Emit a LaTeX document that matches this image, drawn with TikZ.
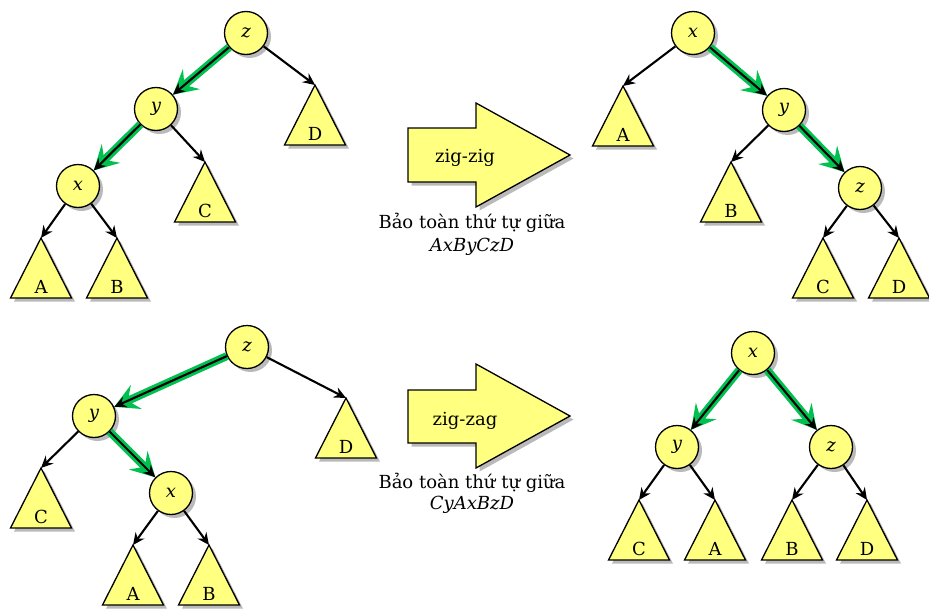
\documentclass[tikz,border=0pt]{standalone}
\usepackage{fontspec}
\setmainfont{DejaVu Serif}
\usetikzlibrary{arrows.meta,shadows}
\definecolor{nodefill}{RGB}{255,255,128}
\definecolor{pathgreen}{RGB}{0,192,80}
\tikzset{
 shad/.style={drop shadow={shadow xshift=3.5pt,shadow yshift=-3.5pt,fill=black!27,opacity=1}},
 keynode/.style={circle,draw,line width=1.3pt,fill=nodefill,minimum size=43pt,inner sep=0pt,shad,font=\fontsize{18}{21}\selectfont\itshape},
 tri/.style={draw,line width=1.3pt,fill=nodefill,shad,line join=miter},
 trilabel/.style={anchor=base,inner sep=0pt,font=\fontsize{18}{21}\selectfont},
 edge/.style={line width=2.1pt,-{Stealth[length=12pt,width=11pt,inset=4pt]}},
 gedge/.style={pathgreen,line width=8pt,-{Stealth[length=24pt,width=26pt,inset=9pt]}},
 bigarrow/.style={draw,line width=1.3pt,fill=nodefill,shad,line join=miter},
 txt/.style={anchor=base,inner sep=0pt,font=\fontsize{18}{21}\selectfont},
}
\newcommand\subtree[4]{%
 \draw[tri] (#2,#3) coordinate (#1) -- ++(30.5,60) -- ++(-61,0) -- cycle;
 \node[trilabel] (#1lab) at (#2,#3+55) {#4};}
\begin{document}
\begin{tikzpicture}[x=1pt,y=-1pt]
\useasboundingbox (0,0) rectangle (929,608);
% ---- top-left tree
\subtree{D1}{315}{85}{D}
\subtree{C1}{205}{162}{C}
\subtree{A1}{41}{238}{A}
\subtree{B1}{117}{238}{B}
\node[keynode] (z1) at (246,33) {z};
\node[keynode] (y1) at (156,109) {y};
\node[keynode] (x1) at (78,186) {x};
\draw[gedge] (z1) -- (y1);
\draw[gedge] (y1) -- (x1);
\draw[edge] (z1) -- (y1);
\draw[edge] (y1) -- (x1);
\draw[edge] (z1) -- (D1);
\draw[edge] (y1) -- (C1);
\draw[edge] (x1) -- (A1);
\draw[edge] (x1) -- (B1);
% ---- top-right tree
\subtree{A2}{623}{86}{A}
\subtree{B2}{731}{162}{B}
\subtree{C2}{823}{238}{C}
\subtree{D2}{899}{238}{D}
\node[keynode] (x2) at (693,33) {x};
\node[keynode] (y2) at (784,110) {y};
\node[keynode] (z2) at (860,188) {z};
\draw[gedge] (x2) -- (y2);
\draw[gedge] (y2) -- (z2);
\draw[edge] (x2) -- (y2);
\draw[edge] (y2) -- (z2);
\draw[edge] (x2) -- (A2);
\draw[edge] (y2) -- (B2);
\draw[edge] (z2) -- (C2);
\draw[edge] (z2) -- (D2);
% ---- bottom-left tree
\subtree{D3}{346}{398}{D}
\subtree{C3}{41}{468}{C}
\subtree{A3}{133}{545}{A}
\subtree{B3}{209}{545}{B}
\node[keynode] (z3) at (247,347) {z};
\node[keynode] (y3) at (94,416) {y};
\node[keynode] (x3) at (171,493) {x};
\draw[gedge] (z3) -- (y3);
\draw[gedge] (y3) -- (x3);
\draw[edge] (z3) -- (y3);
\draw[edge] (y3) -- (x3);
\draw[edge] (z3) -- (D3);
\draw[edge] (y3) -- (C3);
\draw[edge] (x3) -- (A3);
\draw[edge] (x3) -- (B3);
% ---- bottom-right tree
\subtree{C4}{639}{500}{C}
\subtree{A4}{715}{500}{A}
\subtree{B4}{792}{500}{B}
\subtree{D4}{867}{500}{D}
\node[keynode] (x4) at (753,353) {x};
\node[keynode] (y4) at (677,447) {y};
\node[keynode] (z4) at (831,447) {z};
\draw[gedge] (x4) -- (y4);
\draw[gedge] (x4) -- (z4);
\draw[edge] (x4) -- (y4);
\draw[edge] (x4) -- (z4);
\draw[edge] (y4) -- (C4);
\draw[edge] (y4) -- (A4);
\draw[edge] (z4) -- (B4);
\draw[edge] (z4) -- (D4);
% ---- big arrows and captions
\draw[bigarrow] (408,128) -- (476,128) -- (476,103) -- (570,155) -- (476,207) -- (476,182) -- (408,182) -- cycle;
\node[txt] (zz1) at (465,162) {zig-zig};
\node[txt] (cap1a) at (472,228) {Bảo toàn thứ tự giữa};
\node[txt] (cap1b) at (472,251) {\itshape AxByCzD};
\draw[bigarrow] (408,390) -- (476,390) -- (476,364) -- (570,416) -- (476,468) -- (476,443) -- (408,443) -- cycle;
\node[txt] (zz2) at (465,425) {zig-zag};
\node[txt] (cap2a) at (472,488) {Bảo toàn thứ tự giữa};
\node[txt] (cap2b) at (472,509) {\itshape CyAxBzD};
\end{tikzpicture}
\end{document}
